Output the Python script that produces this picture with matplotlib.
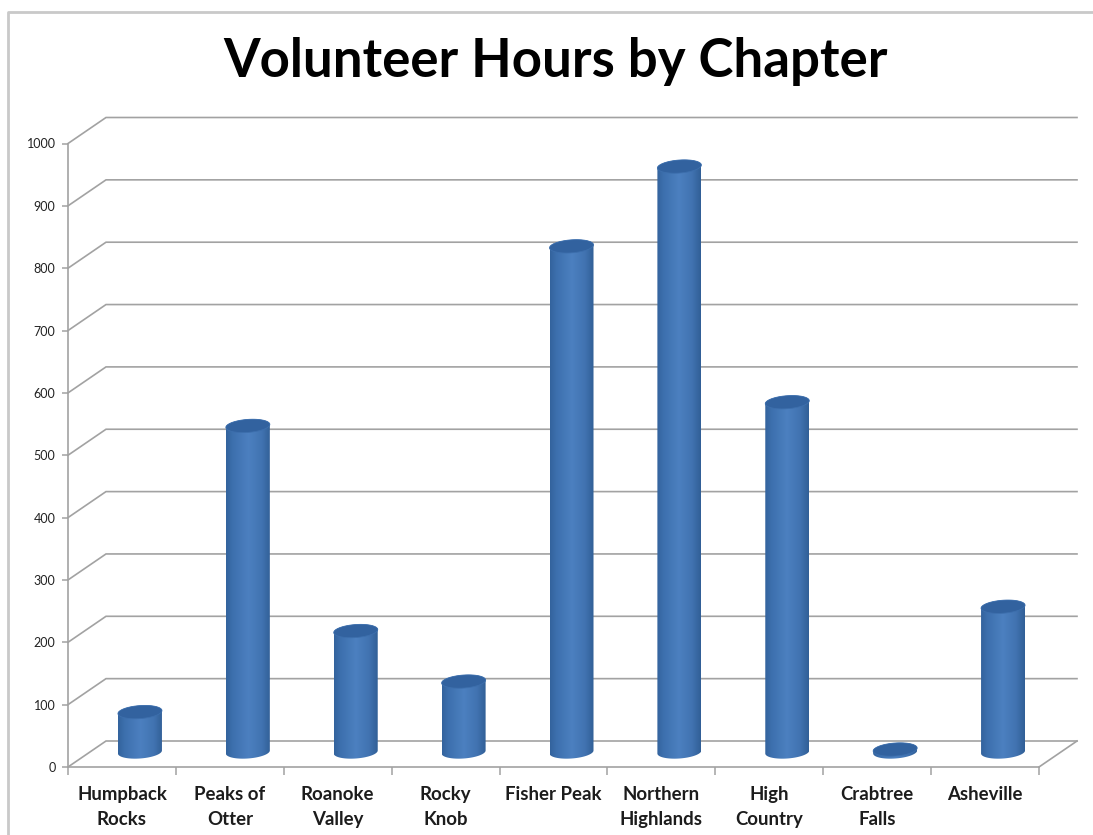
import numpy as np
import matplotlib
matplotlib.use("Agg")
import matplotlib.pyplot as plt
from matplotlib.colors import LinearSegmentedColormap
from matplotlib.lines import Line2D
from matplotlib.patches import PathPatch, Polygon
from matplotlib.path import Path

categories = ["Humpback\nRocks", "Peaks of\nOtter", "Roanoke\nValley", "Rocky\nKnob",
              "Fisher Peak", "Northern\nHighlands", "High\nCountry", "Crabtree\nFalls", "Asheville"]
hours = [64, 523, 194, 113, 811, 939, 561, 4, 233]
y_ticks = list(range(0, 1001, 100))
title = "Volunteer Hours by Chapter"

W, H = 1093, 835
L, R, B, T = 68, 1039, 767, 143.5
fig = plt.figure(figsize=(W / 100, H / 100), dpi=100, facecolor="white")
ax = fig.add_axes([L / W, 1 - B / H, (R - L) / W, (B - T) / H])
ax.set_xlim(0, len(categories))
ax.set_ylim(0, 1000)
ax.patch.set_alpha(0)

px = (R - L) / len(categories)      # pixels per category
py = (B - T) / 1000                 # pixels per value unit
GRID = "#a2a2a2"
depth_x, depth_y = 38 / px, 26 / py

# Back wall and side wall gridlines
for v in y_ticks:
    ax.plot([0, depth_x, len(categories) + depth_x], [v, v + depth_y, v + depth_y],
            color=GRID, lw=1.2, clip_on=False, zorder=1, solid_joinstyle="miter")
# Floor right edge
ax.plot([len(categories), len(categories) + depth_x], [0, depth_y], color=GRID, lw=1.2, clip_on=False, zorder=1)

cmap = LinearSegmentedColormap.from_list(
    "cyl", [(0, "#33639d"), (0.15, "#3d70ae"), (0.5, "#4c80c0"), (0.8, "#4173b1"), (1, "#315f96")])
grad = np.linspace(0, 1, 128).reshape(1, -1)

half_w = 22 / px
ell_h = 6.5 / py        # vertical half-axis of the end caps
tilt = 1.5 / py         # right side of cap sits slightly higher
cx_off = 18 / px
base_y = 15 / py
t = np.linspace(0, 2 * np.pi, 81)


def cap(cx, cy):
    xs = cx + half_w * np.cos(t)
    ys = cy + ell_h * np.sin(t) + tilt * np.cos(t)
    return xs, ys


for i, v in enumerate(hours):
    cx = i + 0.5 + cx_off
    y0 = base_y
    y1 = base_y + v
    xt, yt = cap(cx, y1)
    lower = t[40:81]                      # lower half of ellipse, left to right
    low_x = cx + half_w * np.cos(lower)
    low_y = y0 + ell_h * np.sin(lower) + tilt * np.cos(lower)
    upper = t[0:41]                       # upper half of top ellipse, right to left
    up_x = cx + half_w * np.cos(upper)
    up_y = y1 + ell_h * np.sin(upper) + tilt * np.cos(upper)
    verts = np.column_stack([np.r_[low_x, up_x], np.r_[low_y, up_y]])
    im = ax.imshow(grad, cmap=cmap, extent=[cx - half_w, cx + half_w, y0 - 2 * ell_h, y1 + 2 * ell_h],
                   aspect="auto", zorder=3, clip_on=True, interpolation="bilinear")
    patch = PathPatch(Path(np.vstack([verts, verts[0]])), transform=ax.transData, fc="none", ec="none")
    ax.add_patch(patch)
    patch.set_clip_on(False)
    im.set_clip_path(patch)
    ax.add_patch(Polygon(np.column_stack([xt, yt]), closed=True, fc="#32629f", ec="#3d6fad", lw=0.6,
                         zorder=4, clip_on=False))

ax.set_xlim(0, len(categories))
ax.set_ylim(0, 1000)

for s in ("top", "right"):
    ax.spines[s].set_visible(False)
for s in ("left", "bottom"):
    ax.spines[s].set_color(GRID)
    ax.spines[s].set_linewidth(1.2)
    ax.spines[s].set_zorder(2)

ax.set_yticks(y_ticks)
ax.set_yticklabels([str(v) for v in y_ticks], fontfamily="Lato", fontsize=9, color="#222222")
ax.tick_params(axis="y", length=4, width=1.1, color=GRID, pad=5)
ax.set_xticks(np.arange(len(categories) + 1))
ax.set_xticklabels([])
ax.tick_params(axis="x", which="major", length=6, width=1.1, color=GRID)
ax.set_xticks(np.arange(len(categories)) + 0.5, minor=True)
ax.set_xticklabels(categories, minor=True, fontfamily="Lato", fontweight="bold", fontsize=13.4, color="#1c1c1c",
                   linespacing=1.52)
ax.tick_params(axis="x", which="minor", length=0, pad=14)

fig.text(555.5 / W, 1 - 62 / H, title, ha="center", va="center", fontfamily="Lato", fontweight="bold",
         fontsize=38, color="black")

# Outer chart border (top and left only are visible in the crop)
fig.add_artist(Line2D([8 / W, 8 / W, 1], [0, 1 - 12 / H, 1 - 12 / H], transform=fig.transFigure,
                      color="#c9c9c9", lw=2))

fig.savefig("out.png", dpi=100)
